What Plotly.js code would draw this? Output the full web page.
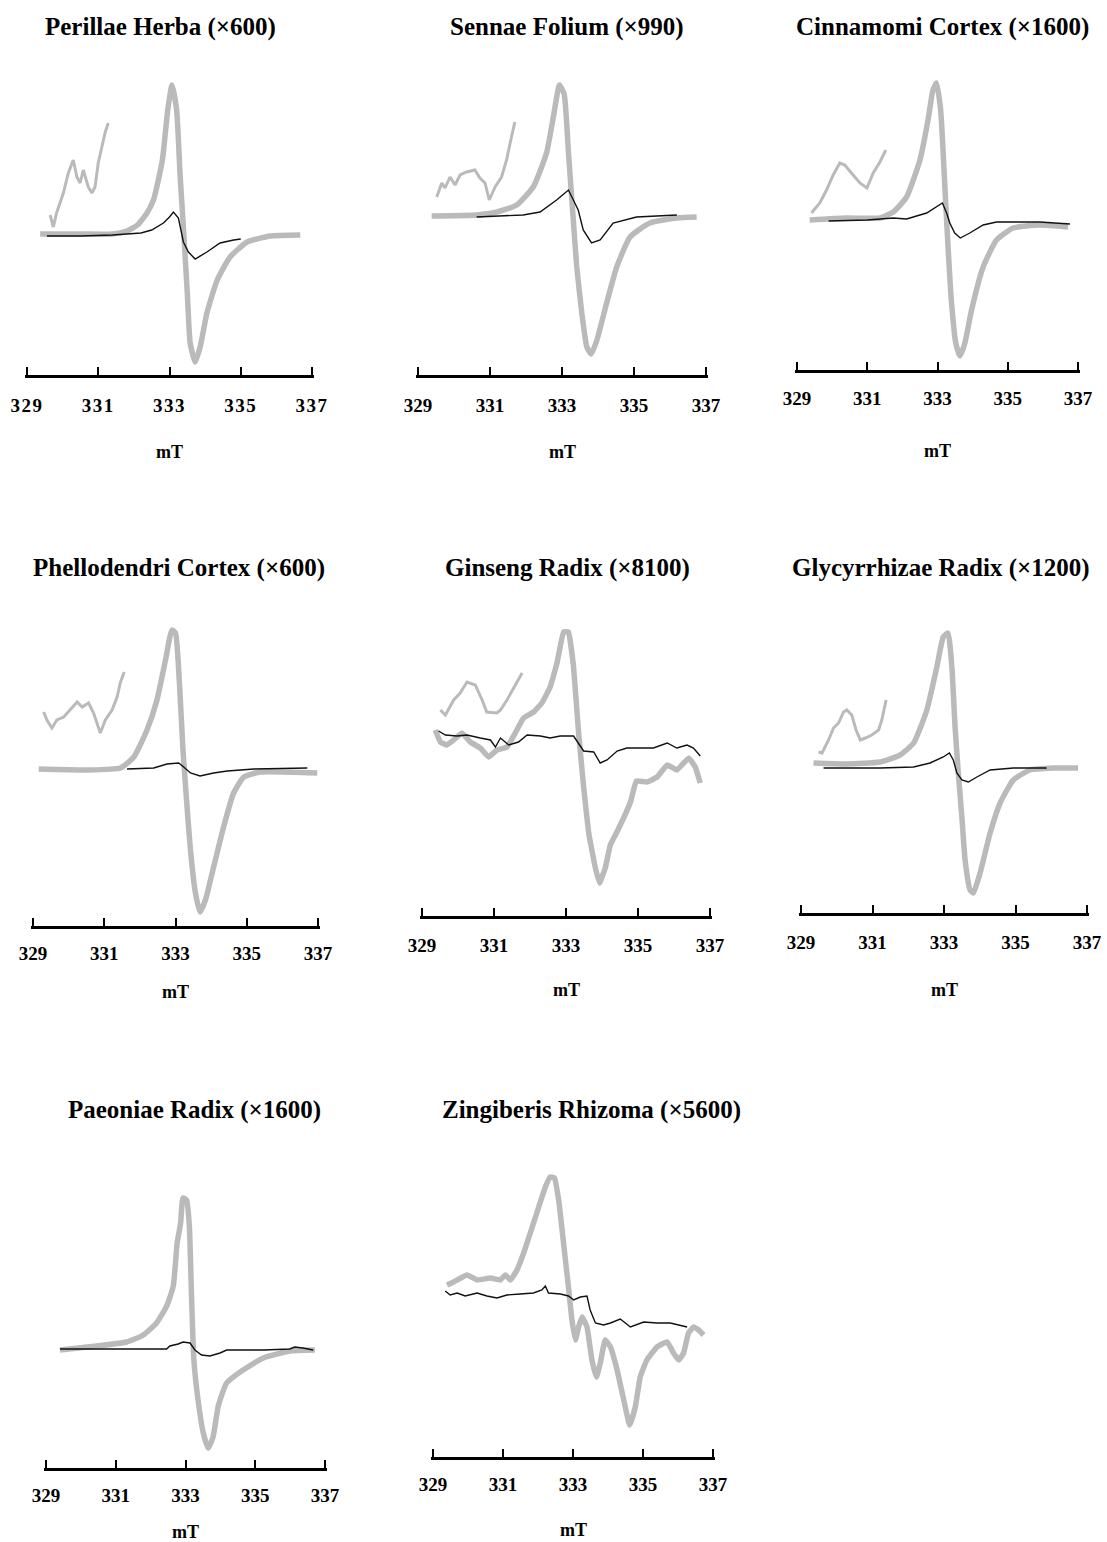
<!DOCTYPE html>
<html>
<head>
<meta charset="utf-8">
<script src="https://cdn.plot.ly/plotly-3.0.1.min.js"></script>
<style>
html, body { margin: 0; padding: 0; background: #ffffff; }
#chart { width: 1107px; height: 1542px; }
#chart .xtick text { letter-spacing: 1.5px; }
</style>
</head>
<body>
<div id="chart"></div>
<script>
// ---------------- DATA (x in mT, y = relative EPR intensity, arbitrary units) ----------------
const titles = [
  "Perillae Herba (\u00d7600)",
  "Sennae Folium (\u00d7990)",
  "Cinnamomi Cortex (\u00d71600)",
  "Phellodendri Cortex (\u00d7600)",
  "Ginseng Radix (\u00d78100)",
  "Glycyrrhizae Radix (\u00d71200)",
  "Paeoniae Radix (\u00d71600)",
  "Zingiberis Rhizoma (\u00d75600)"
];
const tickVals = [329, 331, 333, 335, 337];
const tickText = ["329", "331", "333", "335", "337"];
const unitLabel = "mT";

// Perillae Herba
const p1GrayX = [329.37, 330.5, 331.4, 331.8, 332.1, 332.35, 332.55, 332.8, 332.95, 333.07, 333.2, 333.3, 333.4, 333.5, 333.58, 333.72, 333.86, 334.05, 334.34, 334.7, 335.18, 335.83, 336.67];
const p1GrayY = [0, 0, 0, 3, 9, 20, 34, 74, 124, 149, 124, 57, 1, -59, -109, -128, -113, -79, -46, -23, -8, -2, -1];
const p1BlackX = [329.56, 330.5, 331.4, 332.2, 332.5, 332.83, 333.0, 333.11, 333.25, 333.39, 333.53, 333.72, 334.05, 334.42, 334.8, 335.0];
const p1BlackY = [-2, -2, -1, 1, 4, 11, 17, 22, 16, -8, -18, -25, -18, -9, -6, -5];
const p1InsetX = [329.65, 329.74, 329.83, 330.02, 330.16, 330.3, 330.4, 330.49, 330.58, 330.72, 330.82, 330.91, 331.0, 331.1, 331.19, 331.28];
const p1InsetY = [19, 7, 21, 41, 61, 74, 57, 51, 64, 47, 41, 47, 71, 87, 101, 111];

// Sennae Folium
const p2GrayX = [329.38, 330.63, 331.19, 331.74, 332.2, 332.57, 332.76, 332.93, 333.06, 333.18, 333.3, 333.41, 333.55, 333.69, 333.81, 333.97, 334.24, 334.52, 334.89, 335.44, 336.19, 336.74];
const p2GrayY = [0, 1, 4, 11, 29, 63, 99, 131, 122, 63, 3, -51, -97, -131, -138, -124, -87, -51, -21, -7, -2, -1];
const p2BlackX = [330.63, 331.92, 332.39, 332.85, 333.18, 333.31, 333.45, 333.59, 333.82, 334.06, 334.42, 335.07, 336.19];
const p2BlackY = [-1, 1, 4, 16, 26, 16, 6, -14, -27, -24, -7, -1, 1];
const p2InsetX = [329.52, 329.66, 329.75, 329.89, 330.03, 330.17, 330.35, 330.58, 330.72, 330.86, 330.98, 331.14, 331.32, 331.46, 331.56, 331.69];
const p2InsetY = [19, 33, 28, 39, 31, 41, 44, 46, 38, 33, 16, 29, 39, 56, 73, 94];

// Cinnamomi Cortex
const p3GrayX = [329.36, 330.41, 331.36, 331.74, 332.12, 332.5, 332.73, 332.87, 332.97, 333.09, 333.21, 333.3, 333.4, 333.52, 333.64, 333.78, 333.97, 334.3, 334.68, 335.15, 335.91, 336.72];
const p3GrayY = [0, 2, 2, 8, 23, 60, 100, 130, 137, 110, 33, -27, -83, -123, -136, -123, -90, -47, -20, -8, -5, -7];
const p3BlackX = [329.9, 331.0, 331.74, 332.12, 332.69, 332.97, 333.14, 333.26, 333.35, 333.49, 333.65, 333.92, 334.3, 334.68, 335.91, 336.77];
const p3BlackY = [-1, 0, 2, 1, 7, 13, 17, 7, -3, -13, -18, -13, -5, -2, -2, -4];
const p3InsetX = [329.41, 329.65, 329.84, 330.03, 330.22, 330.36, 330.55, 330.79, 330.99, 331.17, 331.36, 331.53];
const p3InsetY = [7, 17, 30, 45, 57, 55, 47, 37, 32, 47, 58, 70];

// Phellodendri Cortex
const p4GrayX = [329.16, 330.52, 331.45, 331.83, 332.2, 332.48, 332.72, 332.9, 333.0, 333.11, 333.21, 333.31, 333.42, 333.56, 333.69, 333.84, 334.07, 334.35, 334.63, 334.92, 335.38, 336.98];
const p4GrayY = [1, 0, 2, 13, 40, 70, 110, 140, 137, 87, 20, -30, -80, -123, -142, -130, -97, -57, -23, -7, -2, -3];
const p4BlackX = [331.64, 332.39, 332.76, 333.09, 333.23, 333.42, 333.69, 334.07, 334.45, 335.2, 336.7];
const p4BlackY = [1, 2, 6, 7, 3, -3, -6, -3, -1, 1, 2];
const p4InsetX = [329.3, 329.39, 329.53, 329.67, 329.86, 330.05, 330.24, 330.38, 330.56, 330.7, 330.89, 331.03, 331.22, 331.36, 331.45, 331.56];
const p4InsetY = [58, 50, 42, 50, 53, 60, 68, 63, 67, 57, 37, 50, 60, 73, 87, 98];

// Ginseng Radix
const p5GrayX = [329.37, 329.51, 329.69, 329.88, 330.11, 330.34, 330.62, 330.85, 331.08, 331.36, 331.59, 331.82, 332.1, 332.33, 332.56, 332.75, 332.93, 333.07, 333.21, 333.35, 333.49, 333.63, 333.81, 333.93, 334.09, 334.23, 334.4, 334.6, 334.8, 334.95, 335.25, 335.53, 335.81, 336.08, 336.41, 336.59, 336.73];
const p5GrayY = [3, -9, -12, -7, 0, -9, -15, -24, -17, -14, 0, 15, 21, 30, 46, 70, 101, 101, 66, 0, -54, -100, -134, -150, -135, -112, -100, -85, -68, -48, -49, -44, -32, -37, -25, -34, -50];
const p5BlackX = [329.46, 329.65, 329.97, 330.25, 330.62, 330.9, 331.04, 331.18, 331.41, 331.68, 331.92, 332.29, 332.56, 332.84, 333.21, 333.35, 333.49, 333.77, 333.95, 334.14, 334.42, 334.69, 335.06, 335.43, 335.81, 336.08, 336.36, 336.54, 336.73];
const p5BlackY = [2, -2, -3, -2, -5, -7, -14, -5, -12, -9, -2, -3, -5, -3, -3, -10, -18, -19, -30, -27, -18, -15, -15, -15, -10, -15, -12, -15, -23];
const p5InsetX = [329.51, 329.65, 329.88, 330.06, 330.25, 330.48, 330.67, 330.8, 331.08, 331.18, 331.36, 331.54, 331.78];
const p5InsetY = [23, 18, 33, 40, 51, 48, 33, 21, 20, 23, 33, 45, 60];

// Glycyrrhizae Radix
const p6GrayX = [329.35, 330.28, 331.21, 331.77, 332.15, 332.52, 332.8, 332.98, 333.11, 333.22, 333.31, 333.4, 333.5, 333.59, 333.73, 333.82, 334.01, 334.29, 334.57, 334.94, 335.4, 336.06, 336.75];
const p6GrayY = [2, 1, 3, 10, 22, 55, 98, 128, 132, 98, 38, -8, -52, -95, -125, -128, -108, -68, -38, -15, -5, -3, -3];
const p6BlackX = [329.63, 331.21, 332.15, 332.61, 332.98, 333.15, 333.26, 333.36, 333.5, 333.68, 333.92, 334.29, 334.94, 335.87];
const p6BlackY = [-3, -3, -2, 2, 8, 12, 5, -8, -15, -17, -12, -5, -3, -3];
const p6InsetX = [329.49, 329.59, 329.77, 329.91, 330.05, 330.19, 330.28, 330.42, 330.54, 330.66, 330.8, 330.98, 331.17, 331.26, 331.38];
const p6InsetY = [13, 12, 25, 37, 42, 53, 55, 50, 35, 25, 27, 30, 35, 45, 65];

// Paeoniae Radix
const p7GrayX = [329.4, 330.45, 331.31, 331.79, 332.17, 332.46, 332.65, 332.76, 332.86, 332.93, 333.03, 333.11, 333.17, 333.24, 333.36, 333.51, 333.65, 333.79, 333.94, 334.18, 334.65, 335.23, 335.99, 336.71];
const p7GrayY = [-1, 3, 7, 14, 26, 43, 63, 106, 126, 151, 149, 123, 56, -11, -51, -84, -99, -88, -57, -34, -21, -9, -2, -1];
const p7BlackX = [329.4, 332.46, 332.55, 332.79, 332.93, 333.13, 333.27, 333.46, 333.7, 333.99, 334.18, 335.23, 335.99, 336.13, 336.37, 336.66];
const p7BlackY = [0, 0, 3, 5, 7, 6, -1, -6, -7, -4, -1, -1, 0, 2, 1, -1];
const p7InsetX = [];
const p7InsetY = [];

// Zingiberis Rhizoma
const p8GrayX = [329.4, 329.59, 329.97, 330.26, 330.64, 330.92, 331.07, 331.21, 331.4, 331.59, 331.78, 332.02, 332.21, 332.35, 332.47, 332.59, 332.73, 332.87, 332.97, 333.07, 333.16, 333.26, 333.4, 333.54, 333.67, 333.78, 333.92, 334.07, 334.26, 334.45, 334.62, 334.78, 334.92, 335.11, 335.4, 335.69, 335.87, 336.02, 336.16, 336.3, 336.45, 336.59, 336.73];
const p8GrayY = [8, 11, 18, 13, 15, 13, 18, 13, 23, 40, 60, 86, 106, 116, 115, 93, 50, 6, -27, -47, -34, -24, -34, -67, -84, -70, -47, -54, -77, -107, -132, -114, -84, -67, -54, -49, -60, -67, -60, -40, -34, -37, -42];
const p8BlackX = [329.35, 329.49, 329.69, 329.92, 330.26, 330.54, 330.83, 331.11, 331.49, 331.87, 332.11, 332.21, 332.3, 332.64, 332.87, 333.02, 333.21, 333.4, 333.49, 333.64, 333.87, 334.07, 334.35, 334.64, 335.02, 335.4, 335.78, 336.07, 336.26];
const p8BlackY = [2, -2, 0, -3, 0, -3, -5, -2, -1, 0, 3, 7, 0, -1, -3, -7, -4, -3, -17, -30, -32, -30, -26, -34, -29, -30, -30, -32, -34];
const p8InsetX = [];
const p8InsetY = [];

// ---------------- LAYOUT (page pixel positions of each panel) ----------------
const W = 1107, H = 1542;
const geom = [
  {x0: 27,  x1: 312,  base: 234,  axis: 376,  label: 405,  unit: 452,  tx: 160, ty: 27},
  {x0: 418, x1: 706,  base: 216,  axis: 376,  label: 405,  unit: 452,  tx: 567, ty: 27},
  {x0: 797, x1: 1078, base: 220,  axis: 371,  label: 398,  unit: 451,  tx: 942, ty: 27},
  {x0: 33,  x1: 318,  base: 770,  axis: 927,  label: 953,  unit: 992,  tx: 179, ty: 568},
  {x0: 422, x1: 710,  base: 733,  axis: 917,  label: 945,  unit: 990,  tx: 567, ty: 568},
  {x0: 801, x1: 1087, base: 765,  axis: 914,  label: 942,  unit: 990,  tx: 941, ty: 568},
  {x0: 46,  x1: 325,  base: 1349, axis: 1469, label: 1495, unit: 1532, tx: 195, ty: 1110},
  {x0: 433, x1: 713,  base: 1293, axis: 1458, label: 1484, unit: 1530, tx: 591, ty: 1110}
];
const series = [
  [p1GrayX, p1GrayY, p1BlackX, p1BlackY, p1InsetX, p1InsetY],
  [p2GrayX, p2GrayY, p2BlackX, p2BlackY, p2InsetX, p2InsetY],
  [p3GrayX, p3GrayY, p3BlackX, p3BlackY, p3InsetX, p3InsetY],
  [p4GrayX, p4GrayY, p4BlackX, p4BlackY, p4InsetX, p4InsetY],
  [p5GrayX, p5GrayY, p5BlackX, p5BlackY, p5InsetX, p5InsetY],
  [p6GrayX, p6GrayY, p6BlackX, p6BlackY, p6InsetX, p6InsetY],
  [p7GrayX, p7GrayY, p7BlackX, p7BlackY, p7InsetX, p7InsetY],
  [p8GrayX, p8GrayY, p8BlackX, p8BlackY, p8InsetX, p8InsetY]
];
const smoothing = [0.5, 0.5, 0.5, 0.5, 0.25, 0.5, 0.5, 0.35];

const GRAY = "#bababa";
const SERIF = "Liberation Serif, Times New Roman, serif";
const data = [];
const layout = {
  width: W, height: H,
  margin: {l: 0, r: 0, t: 0, b: 0},
  paper_bgcolor: "#ffffff",
  plot_bgcolor: "rgba(0,0,0,0)",
  showlegend: false,
  annotations: []
};

geom.forEach((g, i) => {
  const k = i + 1;
  const xa = "x" + k, ya = "y" + k;
  const s = series[i];
  const lw = 3;
  const domBottom = g.axis - lw / 2;
  const top = g.axis - 340;
  // pad the range by ~2 px so the end ticks at 329 and 337 are drawn
  const pad = 2 * 8 / (g.x1 - g.x0);
  // gray amplified spectrum
  data.push({
    x: s[0], y: s[1], xaxis: xa, yaxis: ya, type: "scatter", mode: "lines",
    line: {color: GRAY, width: 5.5, shape: "spline", smoothing: smoothing[i]},
    hoverinfo: "skip"
  });
  // gray inset (expanded low-field region)
  if (s[4].length) {
    data.push({
      x: s[4], y: s[5], xaxis: xa, yaxis: ya, type: "scatter", mode: "lines",
      line: {color: GRAY, width: 3}, hoverinfo: "skip"
    });
  }
  // black original spectrum
  data.push({
    x: s[2], y: s[3], xaxis: xa, yaxis: ya, type: "scatter", mode: "lines",
    line: {color: "#111111", width: 1.4}, hoverinfo: "skip"
  });

  layout["xaxis" + k] = {
    domain: [(g.x0 - 2) / W, (g.x1 + 2) / W],
    anchor: ya,
    range: [329 - pad, 337 + pad],
    tickmode: "array", tickvals: tickVals, ticktext: tickText,
    showline: true, linecolor: "#000000", linewidth: lw,
    ticks: "inside", ticklen: 8, tickwidth: 2, tickcolor: "#000000",
    ticklabelstandoff: (g.label - g.axis) - 17,
    tickfont: {family: SERIF, size: 19, color: "#000000", weight: "bold"},
    showgrid: false, zeroline: false, fixedrange: true
  };
  layout["yaxis" + k] = {
    domain: [1 - domBottom / H, 1 - top / H],
    anchor: xa,
    range: [g.base - domBottom, g.base - top],
    visible: false, showgrid: false, zeroline: false, fixedrange: true
  };
  layout.annotations.push({
    text: titles[i], xref: "paper", yref: "paper",
    x: g.tx / W, y: 1 - g.ty / H, xanchor: "center", yanchor: "middle",
    showarrow: false,
    font: {family: SERIF, size: 25, color: "#000000", weight: "bold"}
  });
  layout.annotations.push({
    text: unitLabel, xref: "paper", yref: "paper",
    x: ((g.x0 + g.x1) / 2) / W, y: 1 - g.unit / H, xanchor: "center", yanchor: "middle",
    showarrow: false,
    font: {family: SERIF, size: 18, color: "#000000", weight: "bold"}
  });
});

Plotly.newPlot("chart", data, layout, {staticPlot: true, displayModeBar: false});
</script>
</body>
</html>
